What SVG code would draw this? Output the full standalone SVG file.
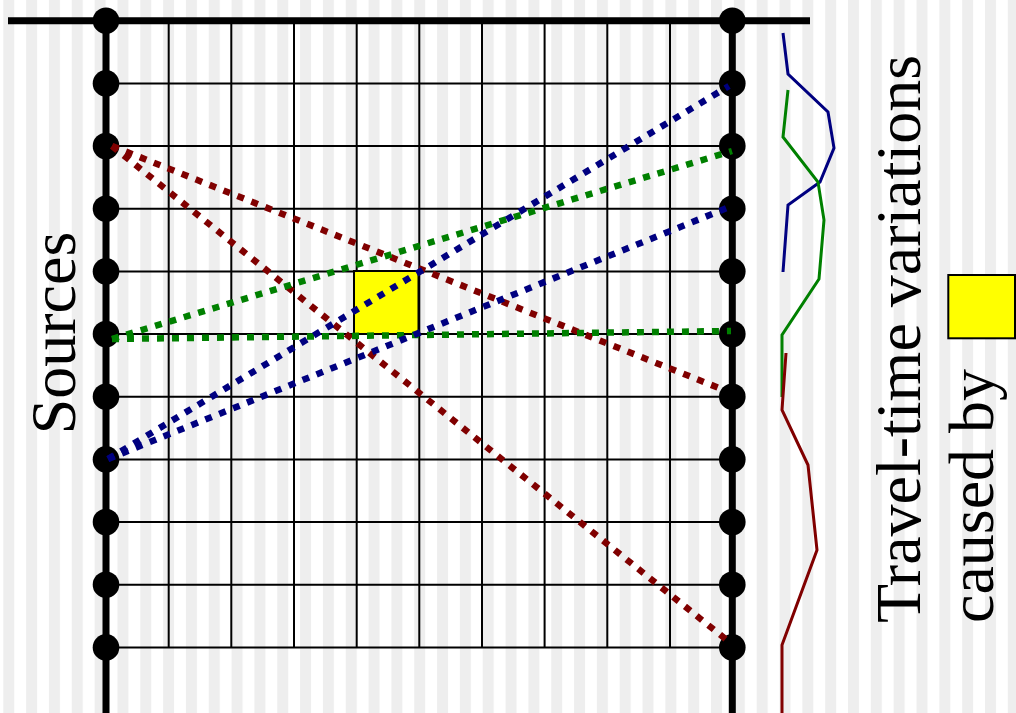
<svg xmlns="http://www.w3.org/2000/svg" width="1016" height="713" viewBox="0 0 1016 713">
<defs>
<pattern id="stripes" patternUnits="userSpaceOnUse" x="3.3" y="0" width="22.83" height="713">
<rect x="0" y="0" width="11" height="713" fill="#eeeeee"/>
</pattern>
</defs>
<style>
.thick{stroke:#000;stroke-width:7;fill:none}
.thin{stroke:#000;stroke-width:2;fill:none}
.dot{fill:#000}
.ray{stroke-width:6.5;stroke-dasharray:7 8;fill:none}
.trace{stroke-width:3;fill:none;stroke-linejoin:miter}
.lbl{font-family:"Liberation Serif","Times New Roman",serif;font-size:64px;fill:#000}
</style>
<rect x="0" y="0" width="1016" height="713" fill="#ffffff"/>
<rect x="0" y="0" width="1016" height="713" fill="url(#stripes)"/>
<g id="grid">
<path class="thin" d="M106,83.4H732.3M106,146H732.3M106,208.7H732.3M106,271.4H732.3M106,334H732.3M106,396.7H732.3M106,459.4H732.3M106,522H732.3M106,584.7H732.3M106,647.4H732.3"/>
<path class="thin" d="M168.7,20.7V647.4M231.3,20.7V647.4M294,20.7V647.4M356.7,20.7V647.4M419.3,20.7V647.4M482,20.7V647.4M544.6,20.7V647.4M607.3,20.7V647.4M670,20.7V647.4"/>
<path class="thick" d="M8,20.7H810M106,20.7V713M732.3,20.7V713"/>
</g>
<g id="anomaly"><rect x="354" y="271" width="64.5" height="63" fill="#ffff00" stroke="#000" stroke-width="2"/></g>
<g id="sources">
<circle class="dot" cx="106" cy="20.7" r="13.3"/><circle class="dot" cx="106" cy="83.4" r="13.3"/><circle class="dot" cx="106" cy="146" r="13.3"/><circle class="dot" cx="106" cy="208.7" r="13.3"/><circle class="dot" cx="106" cy="271.4" r="13.3"/><circle class="dot" cx="106" cy="334" r="13.3"/><circle class="dot" cx="106" cy="396.7" r="13.3"/><circle class="dot" cx="106" cy="459.4" r="13.3"/><circle class="dot" cx="106" cy="522" r="13.3"/><circle class="dot" cx="106" cy="584.7" r="13.3"/><circle class="dot" cx="106" cy="647.4" r="13.3"/>
</g>
<g id="receivers">
<circle class="dot" cx="732.3" cy="20.7" r="13.3"/><circle class="dot" cx="732.3" cy="83.4" r="13.3"/><circle class="dot" cx="732.3" cy="146" r="13.3"/><circle class="dot" cx="732.3" cy="208.7" r="13.3"/><circle class="dot" cx="732.3" cy="271.4" r="13.3"/><circle class="dot" cx="732.3" cy="334" r="13.3"/><circle class="dot" cx="732.3" cy="396.7" r="13.3"/><circle class="dot" cx="732.3" cy="459.4" r="13.3"/><circle class="dot" cx="732.3" cy="522" r="13.3"/><circle class="dot" cx="732.3" cy="584.7" r="13.3"/><circle class="dot" cx="732.3" cy="647.4" r="13.3"/>
</g>
<g id="connectors">
<path class="ray" stroke="#800000" d="M112,146L724,390"/>
<path class="ray" stroke="#800000" d="M112,146L728,641"/>
<path class="ray" stroke="#008000" d="M112,339L732,151"/>
<path class="ray" stroke="#008000" d="M112,339L731,331"/>
<path class="ray" stroke="#000080" d="M108,459L729,86"/>
<path class="ray" stroke="#000080" d="M108,459L727,208"/>
</g>
<g id="traces">
<polyline class="trace" stroke="#000080" points="783,33 788,74 828,112 834,148 820,182 788,205 783,272"/>
<polyline class="trace" stroke="#008000" points="788,90 783,137 818,182 824,220 819,279 782,335 782,397"/>
<polyline class="trace" stroke="#800000" points="786,353 782,410 808,465 817,550 782,645 782,713"/>
</g>
<g id="labels">
<text class="lbl" transform="translate(75,333) rotate(-90)" text-anchor="middle">Sources</text>
<text class="lbl" transform="translate(920,623) rotate(-90)">Travel-time variations</text>
<text class="lbl" transform="translate(993,623) rotate(-90)">caused by</text>
</g>
<g id="legend-square"><rect x="948.3" y="275" width="66.7" height="63.3" fill="#ffff00" stroke="#000" stroke-width="2"/></g>
</svg>
